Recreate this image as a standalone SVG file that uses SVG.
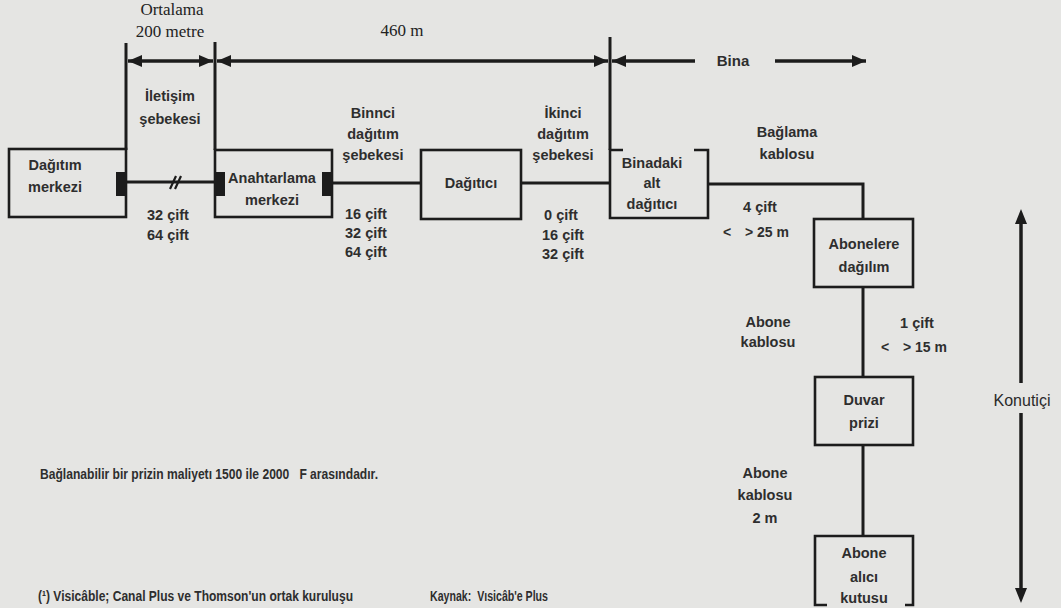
<svg xmlns="http://www.w3.org/2000/svg" width="1061" height="608" viewBox="0 0 1061 608">
<defs>
<marker id="ah" markerUnits="userSpaceOnUse" markerWidth="14" markerHeight="12" refX="14" refY="6" orient="auto-start-reverse">
<path d="M0,0 L14,6 L0,12 z" fill="#1c1c1c"/>
</marker>
</defs>
<style>
.t{font-family:"Liberation Sans",Arial,sans-serif;font-weight:bold;font-size:14.5px;fill:#2e2e2e;text-anchor:middle}
.l{font-family:"Liberation Sans",Arial,sans-serif;font-weight:bold;font-size:14px;fill:#2e2e2e;white-space:pre}
.s{font-family:"Liberation Serif","Times New Roman",serif;font-size:17px;fill:#222;text-anchor:middle}
.ln{stroke:#1c1c1c;stroke-width:3;fill:none}
.dim{stroke:#1c1c1c;stroke-width:3.5;fill:none}
.bx{stroke:#1c1c1c;stroke-width:2.6;fill:none}
.term{fill:#1c1c1c}
</style>
<rect x="0" y="0" width="1061" height="608" fill="#e5e5e3"/>

<g id="dimensions">
<text class="s" x="172" y="15">Ortalama</text>
<text class="s" x="170" y="37">200 metre</text>
<text class="s" x="402" y="36">460 m</text>
<text class="t" x="733" y="66" style="font-size:15px">Bina</text>
<line class="ln" x1="126" y1="43" x2="126" y2="150"/>
<line class="ln" x1="215" y1="42" x2="215" y2="150"/>
<line class="ln" x1="610" y1="37" x2="610" y2="150"/>
<line class="dim" x1="128" y1="61" x2="213" y2="61" marker-start="url(#ah)" marker-end="url(#ah)"/>
<line class="dim" x1="217" y1="61" x2="608" y2="61" marker-start="url(#ah)" marker-end="url(#ah)"/>
<line class="dim" x1="612" y1="61" x2="695" y2="61" marker-start="url(#ah)"/>
<line class="dim" x1="775" y1="61" x2="866" y2="61" marker-end="url(#ah)"/>
</g>

<g id="connectors">
<line class="ln" x1="126" y1="182" x2="215" y2="182"/>
<path d="M170,189 L176,176 M175,189 L181,176" stroke="#1c1c1c" stroke-width="2.2" fill="none"/>
<line class="ln" x1="332" y1="183" x2="421" y2="183"/>
<line class="ln" x1="521" y1="183" x2="610" y2="183"/>
<polyline class="ln" points="708,184 863,184 863,219"/>
<line class="ln" x1="863" y1="287" x2="863" y2="377"/>
<line class="ln" x1="863" y1="445" x2="863" y2="536"/>
</g>

<g id="dagitim-merkezi">
<rect class="bx" x="9" y="149" width="117" height="68"/>
<rect class="term" x="116" y="172" width="11" height="24"/>
<text class="t" x="55" y="170">Dağıtım</text>
<text class="t" x="55" y="192">merkezi</text>
</g>

<g id="anahtarlama-merkezi">
<rect class="bx" x="215" y="150" width="117" height="67"/>
<rect class="term" x="214" y="172" width="11" height="24"/>
<rect class="term" x="322" y="172" width="11" height="24"/>
<text class="t" x="272" y="183">Anahtarlama</text>
<text class="t" x="272" y="205">merkezi</text>
</g>

<g id="dagitici">
<rect class="bx" x="421" y="150" width="100" height="69"/>
<text class="t" x="471" y="188">Dağıtıcı</text>
</g>

<g id="binadaki-alt-dagitici">
<polyline class="bx" points="623,150 610,150 610,218 708,218 708,150 694,150"/>
<text class="t" x="652" y="168">Binadaki</text>
<text class="t" x="652" y="188">alt</text>
<text class="t" x="652" y="209">dağıtıcı</text>
</g>

<g id="abonelere-dagilim">
<rect class="bx" x="814" y="219" width="99" height="68"/>
<text class="t" x="864" y="249">Abonelere</text>
<text class="t" x="864" y="272">dağılım</text>
</g>

<g id="duvar-prizi">
<rect class="bx" x="815" y="377" width="98" height="68"/>
<text class="t" x="864" y="405">Duvar</text>
<text class="t" x="864" y="428">prizi</text>
</g>

<g id="abone-alici-kutusu">
<polyline class="bx" points="827,605 815,605 815,536 913,536 913,605 905,605"/>
<text class="t" x="864" y="558">Abone</text>
<text class="t" x="864" y="582">alıcı</text>
<text class="t" x="864" y="603">kutusu</text>
</g>

<g id="labels">
<text class="t" x="170" y="101">İletişim</text>
<text class="t" x="170" y="124">şebekesi</text>
<text class="t" x="168" y="220">32 çift</text>
<text class="t" x="168" y="240">64 çift</text>

<text class="t" x="373" y="118">Binnci</text>
<text class="t" x="373" y="139">dağıtım</text>
<text class="t" x="373" y="160">şebekesi</text>
<text class="t" x="366" y="219">16 çift</text>
<text class="t" x="366" y="238">32 çift</text>
<text class="t" x="366" y="257">64 çift</text>

<text class="t" x="563" y="118">İkinci</text>
<text class="t" x="563" y="139">dağıtım</text>
<text class="t" x="563" y="160">şebekesi</text>
<text class="t" x="561" y="220">0 çift</text>
<text class="t" x="563" y="240">16 çift</text>
<text class="t" x="563" y="259">32 çift</text>

<text class="t" x="787" y="137">Bağlama</text>
<text class="t" x="787" y="159">kablosu</text>
<text class="t" x="760" y="212">4 çift</text>
<text class="l" x="723" y="237">&lt;</text>
<text class="l" x="745" y="237">&gt; 25 m</text>

<text class="t" x="768" y="327">Abone</text>
<text class="t" x="768" y="347">kablosu</text>
<text class="t" x="917" y="328">1 çift</text>
<text class="l" x="881" y="352">&lt;</text>
<text class="l" x="903" y="352">&gt; 15 m</text>

<text class="t" x="765" y="478">Abone</text>
<text class="t" x="765" y="500">kablosu</text>
<text class="t" x="765" y="523">2 m</text>
</g>

<g id="konutici">
<line class="dim" x1="1021" y1="222" x2="1021" y2="383"/>
<path d="M1015,224 L1021,209 L1027,224 z" fill="#1c1c1c"/>
<line class="dim" x1="1021" y1="413" x2="1021" y2="590"/>
<path d="M1015,588 L1021,603 L1027,588 z" fill="#1c1c1c"/>
<text x="1022" y="406" style="font-family:'Liberation Sans',Arial,sans-serif;font-size:16px;fill:#2a2a2a;text-anchor:middle">Konutiçi</text>
</g>

<g id="notes">
<text class="l" x="40" y="479" textLength="338" lengthAdjust="spacingAndGlyphs">Bağlanabilir bir prizin maliyetı 1500 ile 2000   F arasındadır.</text>
<text class="l" x="38" y="601" textLength="315" lengthAdjust="spacingAndGlyphs">(¹) Visicâble; Canal Plus ve Thomson'un ortak kuruluşu</text>
<text class="l" x="430" y="601" textLength="118" lengthAdjust="spacingAndGlyphs">Kaynak:  Vısicâb'e Plus</text>
</g>
</svg>
